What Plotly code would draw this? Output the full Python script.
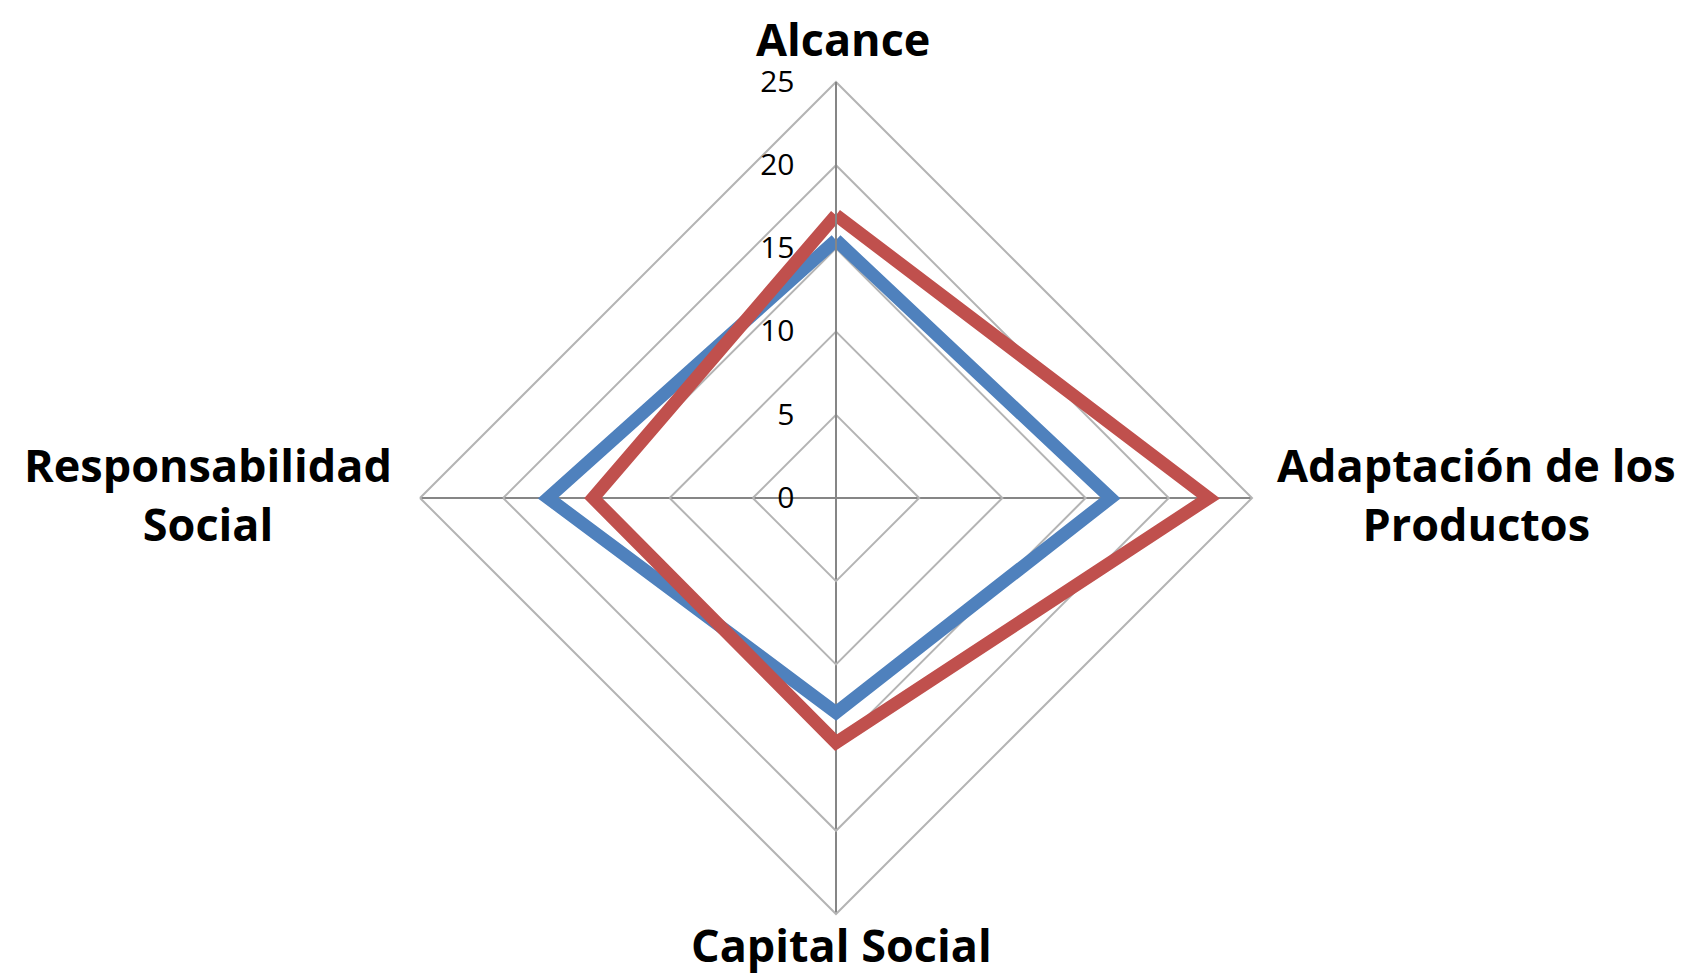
import plotly.graph_objects as go

categories = ["Alcance", "Adaptación de los<br>Productos", "Capital Social", "Responsabilidad<br>Social"]
serie_azul = [15.5, 16.5, 12.9, 17.3]
serie_roja = [17.0, 22.4, 14.7, 14.6]
radial_ticks = [0, 5, 10, 15, 20, 25]

W, H = 1689, 978
cx, cy, R = 828, 490, 416

def closed(v):
    return list(v) + [v[0]]

fig = go.Figure()
fig.add_trace(go.Scatterpolar(r=closed(serie_azul), theta=closed(categories), mode="lines",
                              line=dict(color="#4F81BD", width=13), name="Serie 1"))
fig.add_trace(go.Scatterpolar(r=closed(serie_roja), theta=closed(categories), mode="lines",
                              line=dict(color="#C0504D", width=13), name="Serie 2"))

# category labels placed around the chart (centered multi-line text)
label_pos = [(835, 31), (1468, 486), (833, 936), (200, 486)]
for text, (x, y) in zip(categories, label_pos):
    fig.add_annotation(x=x / W, y=1 - y / H, xref="paper", yref="paper", text=text,
                       showarrow=False, xanchor="center", yanchor="middle", align="center",
                       font=dict(family="Open Sans", size=45, color="#000000", weight="bold"))

fig.update_layout(
    width=W, height=H,
    margin=dict(l=0, r=0, t=0, b=0),
    paper_bgcolor="white",
    showlegend=False,
    polar=dict(
        domain=dict(x=[(cx - R) / W, (cx + R) / W], y=[(H - cy - R) / H, (H - cy + R) / H]),
        bgcolor="white",
        gridshape="linear",
        radialaxis=dict(range=[0, 25], tickvals=radial_ticks, ticktext=[str(t) for t in radial_ticks],
                        angle=90, tickangle=90, side="counterclockwise",
                        showline=True, linecolor="#868686", linewidth=2,
                        gridcolor="#B4B4B4", gridwidth=2,
                        ticks="outside", ticklen=30, tickcolor="rgba(0,0,0,0)",
                        tickfont=dict(family="Open Sans", size=30, color="#000000")),
        angularaxis=dict(direction="clockwise", rotation=90, showticklabels=False,
                         showline=True, linecolor="#B4B4B4", linewidth=2,
                         gridcolor="#868686", gridwidth=2, ticks=""),
    ),
)

fig.write_html("out.html")
